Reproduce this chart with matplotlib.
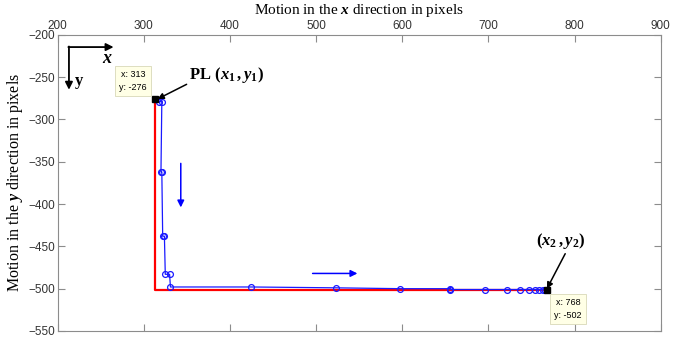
import matplotlib

matplotlib.use("Agg")

import matplotlib.pyplot as plt

# reference path (red) and tracked positions (blue circles), in pixels
ref_x = [313, 313, 768]
ref_y = [-276, -502, -502]

track_x = [318, 321, 320, 321, 322, 324, 325, 330, 331,
           425, 523, 598, 656, 656, 696, 722, 737, 747, 754, 759, 763, 766]
track_y = [-279, -279, -362, -362, -438, -438, -483, -483, -498,
           -498, -499, -500, -500, -501, -501, -501, -501, -501, -501, -501, -501, -502]

start_pt = (313, -276)
end_pt = (768, -502)

x_ticks = [200, 300, 400, 500, 600, 700, 800, 900]
y_ticks = [-200, -250, -300, -350, -400, -450, -500, -550]

plt.rcParams["mathtext.fontset"] = "custom"
plt.rcParams["mathtext.rm"] = "Liberation Serif:bold"
plt.rcParams["mathtext.it"] = "Liberation Serif:italic:bold"
plt.rcParams["mathtext.bf"] = "Liberation Serif:bold"

fig = plt.figure(figsize=(6.83, 3.39), dpi=100)
ax = fig.add_axes([0.0843, 0.0236, 0.883, 0.874])

ax.plot(ref_x, ref_y, color="#ff0000", linewidth=1.6, zorder=2)
ax.plot(track_x, track_y, color="#1a1aff", linewidth=0.9, marker="o",
        markersize=4.2, markerfacecolor="none", markeredgewidth=0.9, zorder=3)
ax.plot(*start_pt, marker="s", color="black", markersize=5, zorder=4)
ax.plot(*end_pt, marker="s", color="black", markersize=5, zorder=4)

ax.set_xlim(200, 900)
ax.set_ylim(-550, -200)
ax.set_xticks(x_ticks)
ax.set_yticks(y_ticks)
ax.xaxis.tick_top()
ax.xaxis.set_label_position("top")
ax.tick_params(direction="in", top=True, bottom=True, left=True, right=True,
               length=5, width=0.8, color="#8c8c8c", labelsize=8.5,
               labelcolor="#333333", pad=2)
for sp in ax.spines.values():
    sp.set_color("#8c8c8c")
    sp.set_linewidth(0.8)
for lbl in ax.get_xticklabels() + ax.get_yticklabels():
    lbl.set_family("Liberation Sans")

ax.set_xlabel("Motion in the $x$ direction in pixels", family="Liberation Serif",
              fontsize=11, labelpad=4)
ax.set_ylabel("Motion in the $y$ direction in pixels", family="Liberation Serif",
              fontsize=11.5, labelpad=2)

# data tips
tip = dict(boxstyle="square,pad=0.45", facecolor="#ffffe6", edgecolor="#d8d8b8",
           linewidth=0.6)
ax.text(287.5, -254.7, "x: 313\ny: -276", fontsize=6.5, family="Liberation Sans",
        ha="center", va="center", bbox=tip, linespacing=1.5, zorder=5)
ax.text(792.4, -524.2, "x: 768\ny: -502", fontsize=6.5, family="Liberation Sans",
        ha="center", va="center", bbox=tip, linespacing=1.5, zorder=5)

# point annotations
arrow_k = dict(arrowstyle="-|>", color="black", linewidth=1.1, mutation_scale=9,
               shrinkA=0, shrinkB=0)
ax.annotate(r"$\mathrm{PL}\ (x_1\,,y_1)$", xy=(316, -276), xytext=(353, -247.6),
            fontsize=12, ha="left", va="center", arrowprops=dict(arrow_k, relpos=(0.05, 0.2)))
ax.annotate(r"$(x_2\,,y_2)$", xy=(768, -500), xytext=(784, -443.6),
            fontsize=12, ha="center", va="center", arrowprops=dict(arrow_k, relpos=(0.62, 0.0)))

# direction arrows
arrow_b = dict(arrowstyle="-|>", color="#0000ff", linewidth=1.1, mutation_scale=10,
               shrinkA=0, shrinkB=0)
ax.annotate("", xy=(343, -404), xytext=(343, -352), arrowprops=arrow_b)
ax.annotate("", xy=(548, -482), xytext=(496, -482), arrowprops=arrow_b)

# coordinate frame sketch
arrow_f = dict(arrowstyle="-|>", color="black", linewidth=1.3, mutation_scale=11,
               shrinkA=0, shrinkB=0)
ax.annotate("", xy=(265, -214.6), xytext=(212.5, -214.6), arrowprops=arrow_f)
ax.annotate("", xy=(213.2, -265), xytext=(213.2, -213.9), arrowprops=arrow_f)
ax.text(258, -227, "$x$", fontsize=13, ha="center", va="center")
ax.text(224.5, -255, "y", fontsize=12, fontweight="bold", family="Liberation Serif",
        ha="center", va="center")

fig.savefig("out.png", dpi=100)
